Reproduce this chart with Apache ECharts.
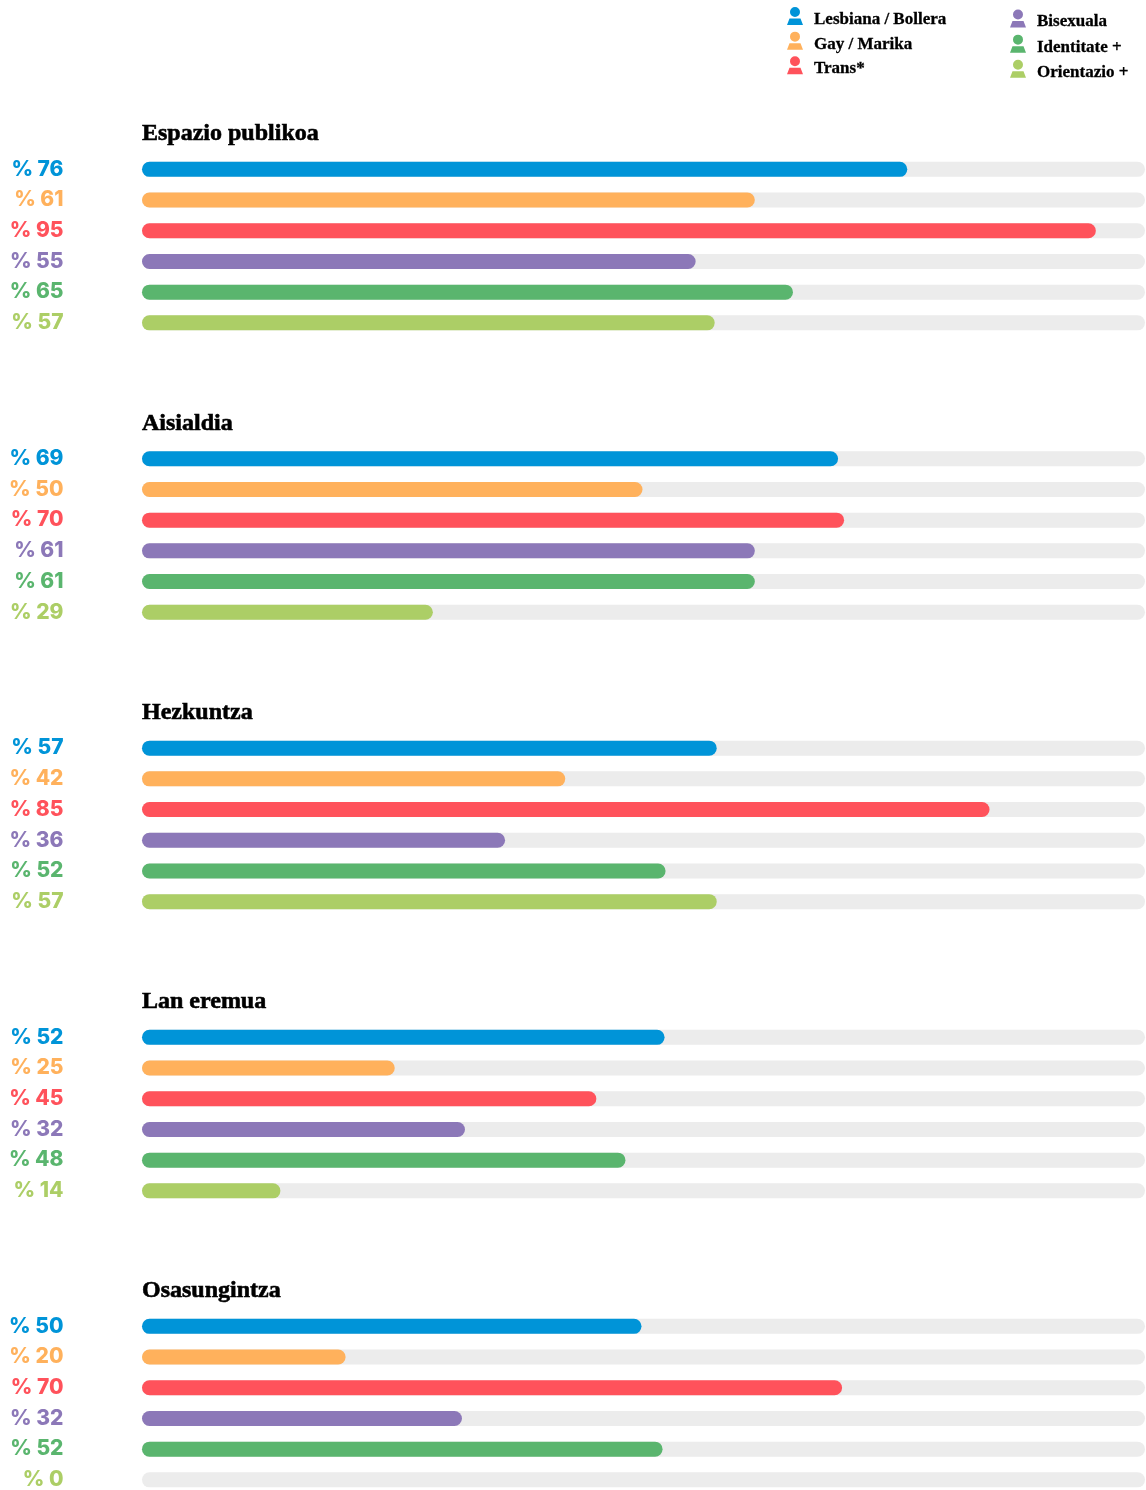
<!DOCTYPE html>
<html>
<head>
<meta charset="utf-8">
<style>
html, body { margin: 0; padding: 0; background: #fff; overflow: hidden; height: 1490px; }
#chart { width: 1146px; height: 1530px; }
</style>
<script src="https://cdn.jsdelivr.net/npm/echarts@6/dist/echarts.min.js"></script>
</head>
<body>
<div id="chart"></div>
<script>
const identities = ['Lesbiana / Bollera', 'Gay / Marika', 'Trans*', 'Bisexuala', 'Identitate +', 'Orientazio +'];
const colors = ['#0094d8', '#ffb15c', '#ff525b', '#8c78b8', '#5ab56e', '#acce66'];
const groupNames = ['Espazio publikoa', 'Aisialdia', 'Hezkuntza', 'Lan eremua', 'Osasungintza'];
// bar lengths, the labels show them rounded
const espazioPublikoa = [76.3, 61.1, 95.1, 55.2, 64.9, 57.1];
const aisialdia = [69.4, 49.9, 70.0, 61.1, 61.1, 29.0];
const hezkuntza = [57.3, 42.2, 84.5, 36.2, 52.2, 57.3];
const lanEremua = [52.1, 25.2, 45.3, 32.2, 48.2, 13.8];
const osasungintza = [49.8, 20.3, 69.8, 31.9, 51.9, 0];
const groupValues = [espazioPublikoa, aisialdia, hezkuntza, lanEremua, osasungintza];
const trackMax = 100;

const person = 'path://M8,0a5,5,0,1,1,-0.01,0zM2.5,11.5H13.5L16,18H0z';
const serif = '"Liberation Serif", serif';
const gridTops = [154, 443.4, 732.8, 1022, 1311];

let grids = [], xAxes = [], yAxes = [], titles = [], series = [];

groupValues.forEach((vals, g) => {
  grids.push({ left: 142, width: 1003, top: gridTops[g], height: 184.2 });
  xAxes.push({ gridIndex: g, type: 'value', min: 0, max: trackMax, show: false });
  yAxes.push({
    gridIndex: g,
    type: 'category',
    inverse: true,
    data: identities,
    axisLine: { show: false },
    axisTick: { show: false },
    axisLabel: {
      interval: 0,
      margin: 78.5,
      align: 'right',
      fontFamily: 'Inter',
      fontWeight: 800,
      fontSize: 21,
      formatter: (v, i) => '% ' + Math.round(vals[i]),
      color: (v, i) => colors[i]
    }
  });
  titles.push({
    text: groupNames[g],
    left: 142,
    top: gridTops[g] - 32,
    padding: 0,
    textStyle: {
      fontFamily: serif, fontWeight: 'bold', fontSize: 24, color: '#000',
      textBorderColor: '#000', textBorderWidth: 0.6
    }
  });
  // grey track behind the bars
  series.push({
    type: 'bar',
    name: 'track' + g,
    xAxisIndex: g,
    yAxisIndex: g,
    barWidth: 15,
    barGap: '-100%',
    silent: true,
    z: 1,
    itemStyle: { color: '#ececec', borderRadius: 8 },
    data: vals.map(() => trackMax)
  });
  identities.forEach((name, k) => {
    series.push({
      type: 'bar',
      name: name,
      xAxisIndex: g,
      yAxisIndex: g,
      barWidth: 15,
      barGap: '-100%',
      z: 2,
      itemStyle: { color: colors[k], borderRadius: 8 },
      data: vals.map((v, i) => (i === k ? v : null))
    });
  });
});

const legendBase = {
  orient: 'vertical',
  selectedMode: false,
  icon: person,
  itemWidth: 16,
  itemHeight: 18,
  padding: 0,
  formatter: '{a|{name}}',
  textStyle: {
    rich: {
      a: {
        fontFamily: serif, fontWeight: 'bold', fontSize: 17, color: '#000',
        padding: [7, 0, 0, 6], textBorderColor: '#000', textBorderWidth: 0.3
      }
    }
  }
};

const chart = echarts.init(document.getElementById('chart'), null, { renderer: 'canvas' });
chart.setOption({
  animation: false,
  backgroundColor: '#fff',
  title: titles,
  legend: [
    Object.assign({}, legendBase, { left: 787, top: 7, itemGap: 3.5, data: identities.slice(0, 3) }),
    Object.assign({}, legendBase, { left: 1010, top: 9.5, itemGap: 4, data: identities.slice(3) })
  ],
  grid: grids,
  xAxis: xAxes,
  yAxis: yAxes,
  series: series
});
</script>
</body>
</html>
